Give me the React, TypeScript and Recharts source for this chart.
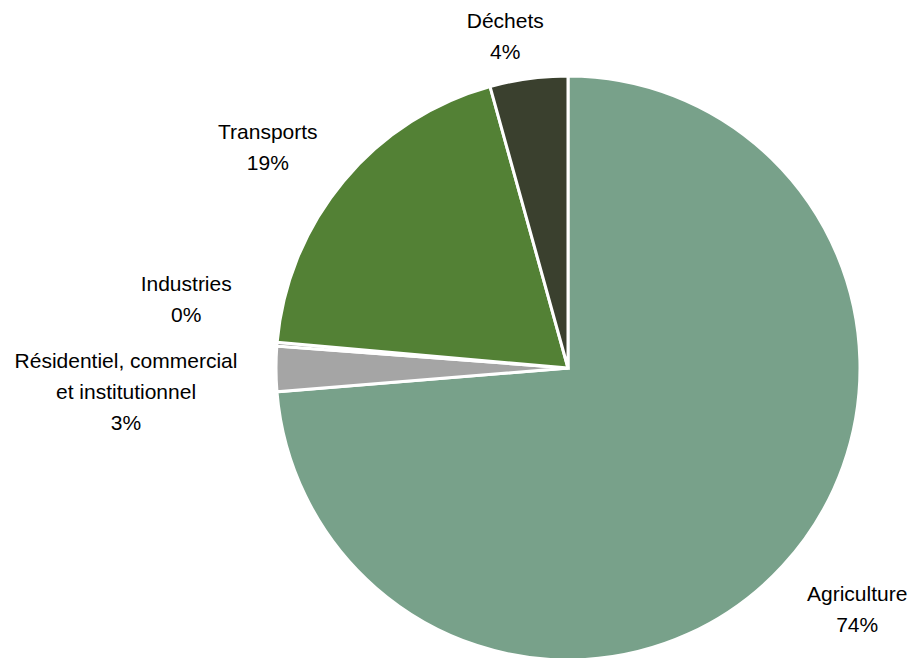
import React from "react";
import { PieChart, Pie, Cell } from "recharts";

// Share of emissions by sector (%), clockwise from 12 o'clock
const sectors = ["Agriculture", "Résidentiel, commercial et institutionnel", "Industries", "Transports", "Déchets"];
const shares = [73.7, 2.5, 0.2, 19.3, 4.3];
const colors = ["#78A18A", "#A5A5A5", "#7F7F7F", "#538135", "#3A402E"];

// label text split over lines, and nudges from the radial anchor
const labelLines: Record<string, string[]> = {
  "Agriculture": ["Agriculture"],
  "Résidentiel, commercial et institutionnel": ["Résidentiel, commercial", "et institutionnel"],
  "Industries": ["Industries"],
  "Transports": ["Transports"],
  "Déchets": ["Déchets"],
};
const labelNudge: Record<string, [number, number]> = {
  "Agriculture": [23, -5],
  "Résidentiel, commercial et institutionnel": [-80, 22],
  "Industries": [-21, -40],
  "Transports": [-22, 10],
  "Déchets": [-14, 26],
};

const data = sectors.map((name, i) => ({ name, value: shares[i] }));

const RADIAN = Math.PI / 180;
const LINE_H = 31;

const renderLabel = (props: any) => {
  const { cx, cy, midAngle, outerRadius, name, value } = props;
  const r = outerRadius + 70;
  const [nx, ny] = labelNudge[name] || [0, 0];
  const x = cx + r * Math.cos(-midAngle * RADIAN) + nx;
  const y = cy + r * Math.sin(-midAngle * RADIAN) + ny;
  const lines = [...(labelLines[name] || [name]), `${Math.round(value)}%`];
  const top = y - ((lines.length - 1) * LINE_H) / 2;
  return (
    <text
      x={x}
      y={top}
      textAnchor="middle"
      dominantBaseline="central"
      fill="#000"
      fontSize={21}
      fontFamily="'Liberation Sans', Arial, sans-serif"
    >
      {lines.map((l, i) => (
        <tspan key={i} x={x} y={top + i * LINE_H} dominantBaseline="central">
          {l}
        </tspan>
      ))}
    </text>
  );
};

export default function App() {
  return (
    <div style={{ position: "absolute", left: 0, top: 0, background: "#fff" }}>
      <PieChart width={909} height={658} margin={{ top: 0, right: 0, bottom: 0, left: 0 }}>
        <Pie
          data={data}
          dataKey="value"
          nameKey="name"
          cx={568}
          cy={368}
          outerRadius={292}
          startAngle={90}
          endAngle={-270}
          stroke="#fff"
          strokeWidth={3}
          label={renderLabel}
          labelLine={false}
          isAnimationActive={false}
        >
          {data.map((d, i) => (
            <Cell key={d.name} fill={colors[i]} />
          ))}
        </Pie>
      </PieChart>
    </div>
  );
}
